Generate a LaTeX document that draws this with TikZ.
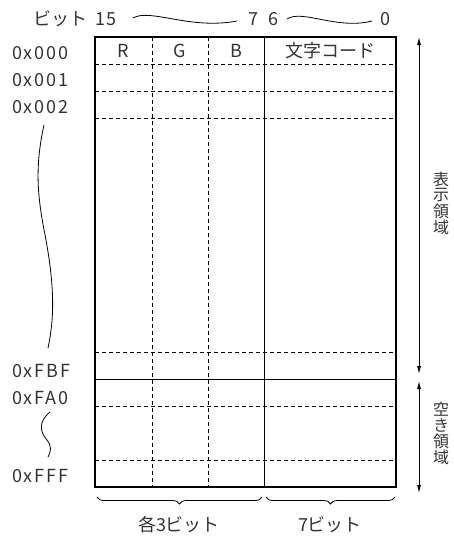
\documentclass[tikz,border=0pt]{standalone}
\usepackage{fontspec}
\setmainfont{Noto Sans CJK JP}
\newfontfamily\spc[LetterSpace=10]{Noto Sans CJK JP}
\usetikzlibrary{arrows.meta,decorations.pathreplacing}
\tikzset{
  lbl/.style={font=\fontsize{18}{18}\selectfont, text=black!80, inner sep=0pt},
  addr/.style={font=\fontsize{18}{18}\selectfont\spc, text=black!80, inner sep=0pt, anchor=west},
  vch/.style={font=\fontsize{16}{16}\selectfont, text=black!80, inner sep=0pt},
  dsh/.style={line width=0.8pt, dash pattern=on 4pt off 3pt},
  sol/.style={line width=0.8pt},
  frame/.style={line width=1.8pt},
  wave/.style={line width=0.8pt},
  dimarrow/.style={line width=0.8pt, {Latex[length=8pt,width=4pt]}-{Latex[length=8pt,width=4pt]}},
  brc/.style={line width=0.8pt, decorate, decoration={brace,mirror,amplitude=7pt}}
}
\begin{document}
\begin{tikzpicture}[x=1pt,y=-1pt]
\useasboundingbox (0,0) rectangle (454,539);
% header
\node[lbl, anchor=west] (bt) at (33,19) {ビット};
\node[addr] (b15) at (95,19) {15};
\node[addr, anchor=center] (b7) at (253,19) {7};
\node[addr, anchor=center] (b6) at (273,19) {6};
\node[addr, anchor=center] (b0) at (385,19) {0};
\draw[wave] (133,18) .. controls (150,8) and (190,30) .. (237,21);
\draw[wave] (287,19) .. controls (302,9) and (337,30) .. (372,21);
% table lines
\foreach \y in {64,91,118,352,406,460} \draw[dsh] (95,\y) -- (396,\y);
\draw[sol] (95,379) -- (396,379);
\foreach \x in {152,208} \draw[dsh] (\x,37) -- (\x,487);
\draw[sol] (264,37) -- (264,487);
\draw[frame] (95,37) rectangle (396,487);
% cell headers
\node[lbl] (cr) at (123,51) {R};
\node[lbl] (cg) at (180,51) {G};
\node[lbl] (cb) at (236,51) {B};
\node[lbl] (cc) at (330,51) {文字コード};
% addresses
\node[addr] (a0) at (12,53) {0x000};
\node[addr] (a1) at (12,80) {0x001};
\node[addr] (a2) at (12,107) {0x002};
\node[addr] (a3) at (12,371) {0xFBF};
\node[addr] (a4) at (12,398) {0xFA0};
\node[addr] (a5) at (12,476) {0xFFF};
\draw[wave] (44,125) .. controls (34,170) and (38,200) .. (46,240) .. controls (55,290) and (54,320) .. (48,348);
\draw[wave] (50,412) .. controls (38,422) and (40,432) .. (47,440) .. controls (52,446) and (51,452) .. (48,457);
% right arrows
\coordinate (t0) at (419,37);
\coordinate (t1) at (419,374);
\coordinate (t2) at (419,381);
\coordinate (t3) at (419,493);
\draw[dimarrow] (t0) -- (t1);
\draw[dimarrow] (t2) -- (t3);
\node[vch] (d1) at (441,179) {表};
\node[vch] (d2) at (441,195) {示};
\node[vch] (d3) at (441,211) {領};
\node[vch] (d4) at (441,227) {域};
\node[vch] (f1) at (441,409) {空};
\node[vch] (f2) at (441,425) {き};
\node[vch] (f3) at (441,441) {領};
\node[vch] (f4) at (441,457) {域};
% braces
\coordinate (br1a) at (97,497);
\coordinate (br1b) at (262,497);
\coordinate (br2a) at (266,497);
\coordinate (br2b) at (395,497);
\draw[brc] (br1a) -- (br1b);
\draw[brc] (br2a) -- (br2b);
\node[lbl] (l1) at (179,525) {各3ビット};
\node[lbl] (l2) at (330,525) {7ビット};
\end{tikzpicture}
\end{document}
